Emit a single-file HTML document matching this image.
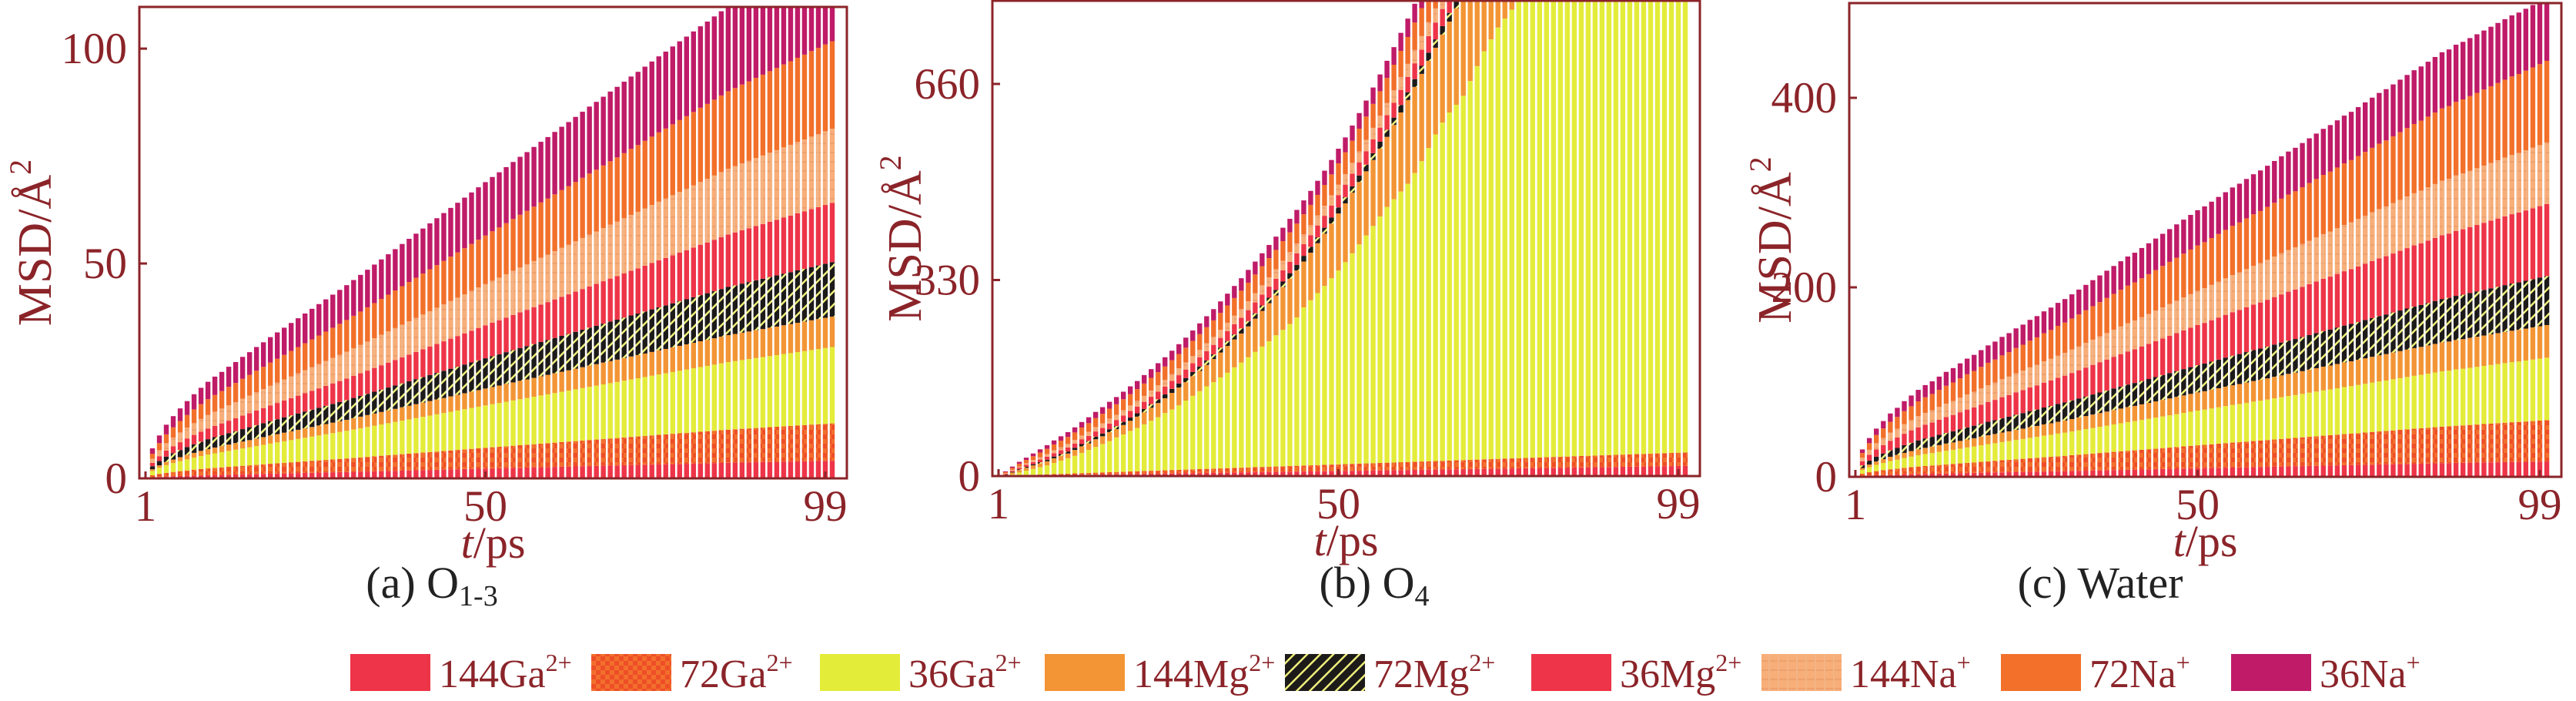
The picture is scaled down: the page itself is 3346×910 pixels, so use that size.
<!DOCTYPE html>
<html><head><meta charset="utf-8"><style>
html,body{margin:0;padding:0;background:#fff;}
svg{display:block;font-family:"Liberation Serif",serif;}
</style></head><body>
<svg id="chart" xmlns="http://www.w3.org/2000/svg" width="3346" height="910" viewBox="0 0 3346 910">
<defs>
<pattern id="pChecker" patternUnits="userSpaceOnUse" width="12" height="12">
<rect width="12" height="12" fill="#f26f2c"/><rect width="6" height="6" fill="#ee4e27"/><rect x="6" y="6" width="6" height="6" fill="#ee4e27"/>
</pattern>
<pattern id="pHatch" patternUnits="userSpaceOnUse" width="12" height="12" patternTransform="rotate(45)">
<rect width="12" height="12" fill="#1d1a1a"/><rect x="0" y="0" width="2.5" height="12" fill="#eef07a"/>
</pattern>
<pattern id="pGrid" patternUnits="userSpaceOnUse" width="12" height="12">
<rect width="12" height="12" fill="#f7ae78"/><rect x="0" y="5" width="12" height="2" fill="#efa070"/><rect x="5" y="0" width="2" height="12" fill="#f3b486"/>
</pattern>
<clipPath id="clipA"><rect x="181" y="9" width="919" height="612"/></clipPath>
<clipPath id="clipB"><rect x="1289" y="1" width="919" height="617"/></clipPath>
<clipPath id="clipC"><rect x="2402" y="4" width="925" height="615"/></clipPath>
</defs>
<g id="panelA"></g>
<g id="panelB"></g>
<g id="panelC"></g>

<text x="561" y="776" font-size="58" fill="#222" text-anchor="middle">(a) O<tspan font-size="38" dy="10">1-3</tspan></text>
<text x="1785" y="776" font-size="58" fill="#222" text-anchor="middle">(b) O<tspan font-size="38" dy="10">4</tspan></text>
<text x="2728" y="776" font-size="58" fill="#222" text-anchor="middle">(c) Water</text>

<g id="legend"></g>
</svg>
<script>
// ---- data ----
const seriesNames = ["144Ga","72Ga","36Ga","144Mg","72Mg","36Mg","144Na","72Na","36Na"];
const seriesCharges = ["2+","2+","2+","2+","2+","2+","+","+","+"];
const seriesFills = ["#ee3448","url(#pChecker)","#e4ec3a","#f39535","url(#pHatch)","#ee3448","url(#pGrid)","#f2702a","#bf1b68"];

// panel (a) O1-3: total stacked MSD per t = 1..100
const aTotal = [0,7,10,12.5,14.5,16.3,18,19.6,21.1,22.5,23.7,24.8,26.0,27.1,28.3,29.4,30.6,31.7,32.9,34.0,35.1,36.2,37.3,38.4,39.5,40.6,41.7,42.8,43.9,45.0,46.2,47.4,48.6,49.8,51.0,52.2,53.4,54.6,55.8,57.0,58.2,59.4,60.6,61.8,63.0,64.2,65.4,66.6,67.8,69.0,70.2,71.3,72.5,73.7,74.9,76.0,77.2,78.4,79.5,80.7,81.9,83.0,84.2,85.4,86.6,87.7,88.9,90.1,91.2,92.4,93.6,94.7,95.9,97.1,98.3,99.4,100.6,101.8,102.9,104.1,105.3,106.4,107.6,108.8,110.0,110.9,111.9,112.8,113.8,114.7,115.7,116.6,117.6,118.5,119.5,120.4,121.4,122.3,123.3,124.2];
const aShares = [0.033,0.070,0.143,0.057,0.102,0.111,0.139,0.164,0.180];
const aTicks = [0,50,100];

// panel (c) Water
const cTotal = [0,29,41,51,59,67,73,80,86,92,97,101,106,111,115,120,125,129,134,139,143,148,152,157,161,166,170,175,179,184,188,193,198,203,208,213,218,223,228,233,237,242,247,252,257,262,267,272,277,282,286,291,296,301,306,310,315,320,324,329,334,339,344,348,353,358,363,368,372,377,382,386,391,396,401,406,410,415,420,425,430,434,439,444,449,452,457,460,464,468,472,476,480,484,488,491,495,499,503,507];
const cShares = [0.032,0.086,0.130,0.068,0.102,0.150,0.128,0.170,0.132];
const cTicks = [0,200,400];

// panel (b) O4
const bLow = [0,0.5,1,1.3,1.7,2.1,2.5,2.9,3.3,3.7,4.1,4.5,4.9,5.3,5.7,6.1,6.5,6.9,7.3,7.7,8.1,8.5,8.9,9.3,9.7,10.1,10.5,10.9,11.3,11.7,12.1,12.5,12.9,13.3,13.7,14.1,14.5,14.9,15.3,15.7,16.1,16.5,16.9,17.3,17.7,18.1,18.5,18.9,19.3,19.7,20.1,20.5,20.9,21.3,21.7,22.1,22.5,22.9,23.3,23.7,24.1,24.5,24.9,25.3,25.7,26.1,26.5,26.9,27.3,27.7,28.1,28.5,28.9,29.3,29.7,30.1,30.5,30.9,31.3,31.7,32.1,32.5,32.9,33.3,33.7,34.1,34.5,34.9,35.3,35.7,36.1,36.5,36.9,37.3,37.7,38.1,38.5,38.9,39.3,39.7];
const bLowShare144 = 0.43;
const bYellow = [0,1,3,6,9,12,15,18,22,26,30,34,39,44,49,54,59,65,70,76,81,87,93,99,106,112,119,127,135,143,151,158,166,174,183,191,200,209,218,227,237,246,256,267,284,296,308,320,333,346,360,375,390,405,421,437,453,466,479,492,510,530,552,575,595,612,625,640,665,690,715,735,755,770,785,800,820,840,860,880,900,920,940,960,980,1000,1020,1040,1060,1080,1100,1120,1140,1160,1180,1200,1220,1240,1260,1280];
const bTop = [0,8,16,24,31,38,45,52,60,67,74,82,91,99,108,116,125,133,142,151,160,170,180,190,200,211,222,233,245,257,269,281,294,307,320,333,347,361,375,389,403,418,433,448,464,480,497,514,532,551,570,590,611,632,654,676,699,722,746,770,795,820,845,870,895,920,945,970,995,1020,1045,1070,1095,1120,1145,1170,1195,1220,1245,1270,1295,1320,1345,1370,1395,1420,1445,1470,1495,1520,1545,1570,1595,1620,1645,1670,1695,1720,1745,1770];
const bUpper = [0,6,10,14,17,20,24,27,30,33,36,38,41,44,46,49,51,54,56,58,60,63,65,67,69,71,73,75,77,80,82,84,86,88,90,93,95,96,97,98,99,100,101,102,103,104,105,106,107,109,111,113,116,119,122,125,128,131,134,137,140,143,146,149,152,155,158,161,164,167,170,173,176,179,182,185,188,191,194,197,200,203,206,209,212,215,218,221,224,227,230,233,236,239,242,245,248,251,254,257];
const bUpperShares = [0.094,0.19,0.16,0.33,0.226]; // 72Mg,36Mg,144Na,72Na,36Na within upper band
const bTicks = [0,330,660];

const xTickLabels = [1,50,99];

// ---- drawing ----
const NS = "http://www.w3.org/2000/svg";
const AX = "#8b2429";
function mk(tag, attrs, parent){
  const e = document.createElementNS(NS, tag);
  for (const k in attrs) e.setAttribute(k, attrs[k]);
  parent.appendChild(e);
  return e;
}
function makeAxes(p){
  p.x = t => p.left + 8 + (t - 1) * (p.width - 36) / 98;
  p.y = v => p.bottom - (v / p.ymax) * (p.bottom - p.top);
}
function drawFrame(p){
  const g = document.getElementById(p.id);
  p.ticks.forEach(v => {
    const yy = p.y(v);
    const tk = mk("line", {x1:p.left, x2:p.left+10, y1:yy, y2:yy, stroke:AX, "stroke-width":3}, g);
    
    
    const lb = mk("text", {x:p.left-16, y:yy+19, "font-size":57, fill:AX, "text-anchor":"end"}, g);
    lb.textContent = v;
    
    
  });
  xTickLabels.forEach(t => {
    const xx = p.x(t);
    const tk = mk("line", {x1:xx, x2:xx, y1:p.bottom, y2:p.bottom-9, stroke:AX, "stroke-width":3}, g);
    
    
    const lb = mk("text", {x:xx, y:p.bottom+55, "font-size":57, fill:AX, "text-anchor":"middle"}, g);
    lb.textContent = t;
    
    
  });
  const box = mk("rect", {x:p.left, y:p.top, width:p.width, height:p.bottom-p.top, fill:"none", stroke:AX, "stroke-width":3}, g);
  
  
  const yt = mk("text", {x:0, y:0, "font-size":62, fill:AX, "text-anchor":"middle", transform:`translate(${p.ytx},${(p.top+p.bottom)/2}) rotate(-90)`}, g);
  yt.innerHTML = 'MSD/Å<tspan font-size="40" dy="-26">2</tspan>';
  
  
  const xt = mk("text", {x:p.left+p.width/2, y:p.bottom+103, "font-size":58, fill:AX, "text-anchor":"middle"}, g);
  xt.innerHTML = '<tspan font-style="italic">t</tspan>/ps';
  
  
}
function drawSegments(p, segsFor){
  const g = document.getElementById(p.id);
  const bars = mk("g", {"clip-path":`url(#${p.clip})`}, g);
  
  
  for (let i = 0; i < 100; i++){
    const t = i + 1;
    const segs = segsFor(i);
    let cum = 0;
    const xx = p.x(t) - 3.2;
    for (let s = 0; s < segs.length; s++){
      const h = Math.max(0, segs[s]);
      if (h <= 0) { continue; }
      const y0 = p.y(cum), y1 = p.y(cum + h);
      const r = mk("rect", {x:xx.toFixed(2), y:y1.toFixed(2), width:6.4, height:Math.max(0, y0-y1).toFixed(2), fill:seriesFills[s]}, bars);
      
      
      cum += h;
    }
  }
}

const pA = {id:"panelA", clip:"clipA", left:181, top:9, width:919, bottom:621, ymax:109.7, ticks:aTicks, ytx:66};
const pB = {id:"panelB", clip:"clipB", left:1289, top:1, width:919, bottom:618, ymax:800, ticks:bTicks, ytx:1196};
const pC = {id:"panelC", clip:"clipC", left:2402, top:4, width:925, bottom:619, ymax:500, ticks:cTicks, ytx:2326};
[pA,pB,pC].forEach(makeAxes);

drawSegments(pA, i => aShares.map(f => aTotal[i]*f));
drawSegments(pC, i => cShares.map(f => cTotal[i]*f));
drawSegments(pB, i => {
  const ga144 = bLow[i]*bLowShare144;
  const ga72 = bLow[i] - ga144;
  const ga36 = bYellow[i] - bLow[i];
  const mg144 = bTop[i] - bUpper[i] - bYellow[i];
  const upper = bUpperShares.map(f => bUpper[i]*f);
  return [ga144, ga72, ga36, mg144].concat(upper);
});
[pA,pB,pC].forEach(drawFrame);

// legend
const legendX = [455,768,1065,1357,1669,1989,2288,2599,2898];
const lg = document.getElementById("legend");
seriesNames.forEach((n, s) => {
  const it = mk("g", {}, lg);
  
  
  const sw = mk("rect", {x:legendX[s], y:849, width:104, height:48, fill:seriesFills[s]}, it);
  
  
  const tx = mk("text", {x:legendX[s]+115, y:892, "font-size":52, fill:AX}, it);
  tx.innerHTML = n + '<tspan font-size="32" dy="-21">' + seriesCharges[s] + '</tspan>';
  
  
});
</script>
</body></html>
